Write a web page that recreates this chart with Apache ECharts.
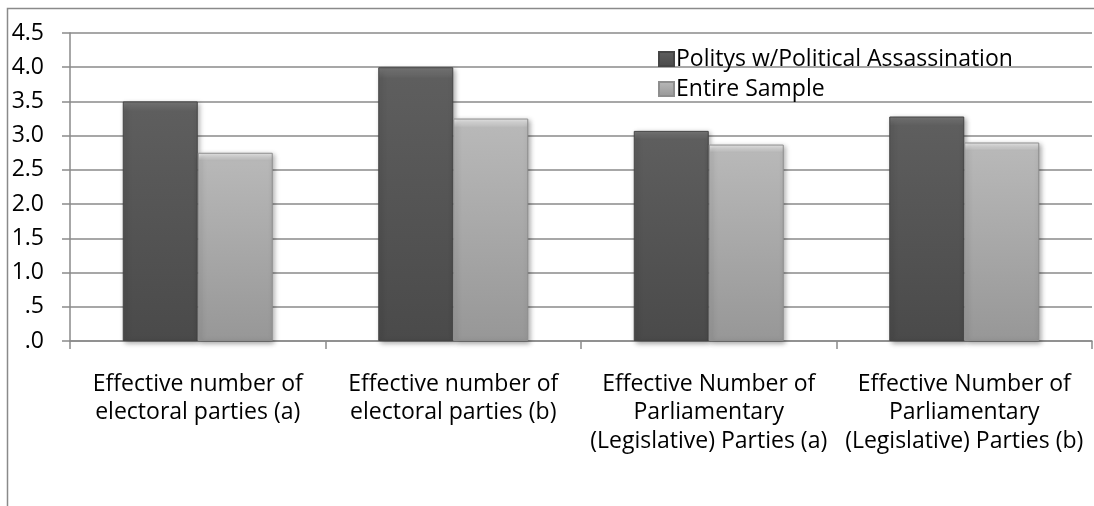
<!DOCTYPE html>
<html>
<head>
<meta charset="utf-8">
<script src="https://cdn.jsdelivr.net/npm/echarts@6/dist/echarts.min.js"></script>
<style>
  html, body { margin: 0; padding: 0; background: #fff; }
  #chart { width: 1094px; height: 506px; }
</style>
</head>
<body>
<div id="chart"></div>
<script>
// Category labels (line breaks as wrapped under the axis)
const categories = [
  'Effective number of\nelectoral parties (a)',
  'Effective number of\nelectoral parties (b)',
  'Effective Number of\nParliamentary\n(Legislative) Parties (a)',
  'Effective Number of\nParliamentary\n(Legislative) Parties (b)'
];
const seriesNames = ['Politys w/Political Assassination', 'Entire Sample'];
const assassinationValues = [3.5, 4.0, 3.07, 3.28];
const entireSampleValues = [2.75, 3.25, 2.87, 2.9];
const yTicks = { min: 0, max: 4.5, interval: 0.5 };

const FONT = '"Open Sans"';
const FONT_SIZE = 23;

function barFill(top, mid, bottom) {
  return new echarts.graphic.LinearGradient(0, 0, 0, 1, [
    { offset: 0, color: top },
    { offset: 0.04, color: mid },
    { offset: 1, color: bottom }
  ]);
}

const chart = echarts.init(document.getElementById('chart'), null, { renderer: 'canvas' });
chart.setOption({
  animation: false,
  backgroundColor: '#ffffff',
  graphic: [
    {
      type: 'polyline',
      silent: true,
      shape: { points: [[7.5, 506], [7.5, 8.5], [1094, 8.5]] },
      style: { stroke: '#8a8a8a', lineWidth: 1.5, fill: null }
    }
  ],
  grid: { left: 70, right: 2, top: 33, bottom: 165, containLabel: false },
  legend: {
    orient: 'vertical',
    left: 658,
    top: 44,
    padding: 0,
    itemGap: 0,
    itemWidth: 15,
    itemHeight: 14,
    icon: 'rect',
    textStyle: { fontFamily: FONT, fontSize: FONT_SIZE, color: '#000', lineHeight: 30, padding: [0, 0, 0, -3] },
    data: seriesNames
  },
  xAxis: {
    type: 'category',
    data: categories,
    axisLine: { lineStyle: { color: '#8a8a8a', width: 1.5 } },
    axisTick: { show: true, length: 8, alignWithLabel: false, lineStyle: { color: '#8a8a8a', width: 1.5 } },
    axisLabel: {
      interval: 0,
      margin: 29,
      fontFamily: FONT,
      fontSize: FONT_SIZE,
      lineHeight: 28.5,
      color: '#000',
      align: 'center'
    }
  },
  yAxis: {
    type: 'value',
    min: yTicks.min,
    max: yTicks.max,
    interval: yTicks.interval,
    axisLine: { show: true, lineStyle: { color: '#8a8a8a', width: 1.5 } },
    axisTick: { show: true, length: 8, lineStyle: { color: '#8a8a8a', width: 1.5 } },
    splitLine: { show: true, lineStyle: { color: '#8a8a8a', width: 1.5 } },
    axisLabel: {
      margin: 26,
      fontFamily: FONT,
      fontSize: FONT_SIZE,
      color: '#000',
      formatter: v => v.toFixed(1).replace(/^0/, '')
    }
  },
  series: [
    {
      name: seriesNames[0],
      type: 'bar',
      data: assassinationValues,
      barWidth: 75,
      barGap: '0%',
      itemStyle: {
        color: barFill('#7a7a7a', '#5e5e5e', '#4a4a4a'),
        borderColor: '#454545',
        borderWidth: 1,
        shadowColor: 'rgba(0,0,0,0.35)',
        shadowBlur: 5,
        shadowOffsetX: 2,
        shadowOffsetY: 2
      }
    },
    {
      name: seriesNames[1],
      type: 'bar',
      data: entireSampleValues,
      barWidth: 75,
      barGap: '0%',
      itemStyle: {
        color: barFill('#eeeeee', '#b8b8b8', '#979797'),
        borderColor: '#8e8e8e',
        borderWidth: 1,
        shadowColor: 'rgba(0,0,0,0.35)',
        shadowBlur: 5,
        shadowOffsetX: 2,
        shadowOffsetY: 2
      }
    }
  ]
});
</script>
</body>
</html>
